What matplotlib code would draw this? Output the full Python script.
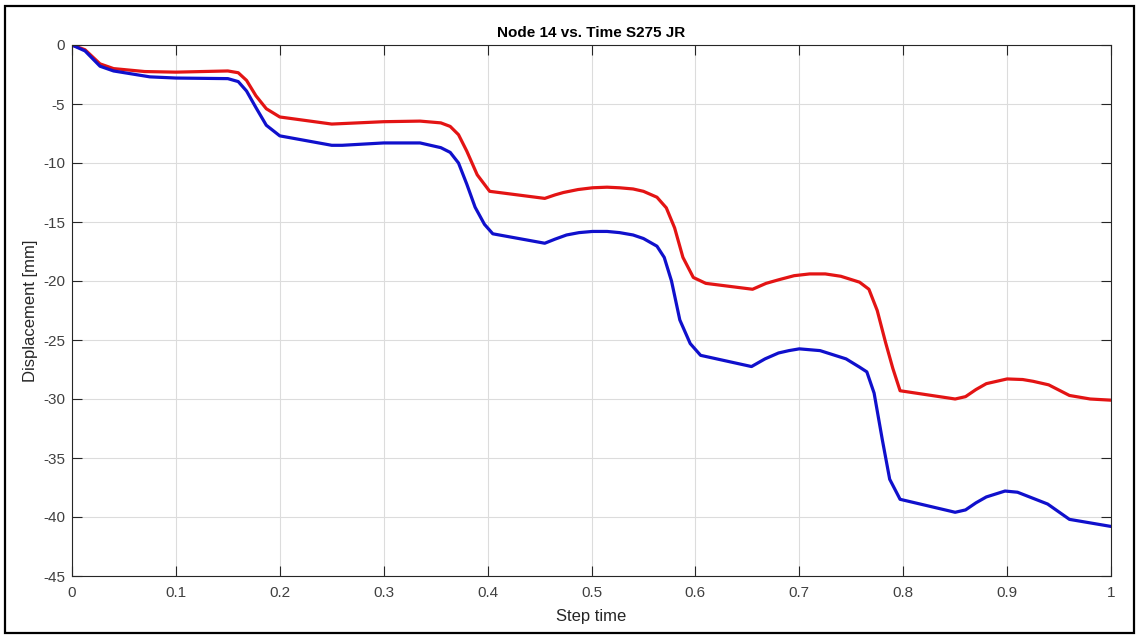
import matplotlib.pyplot as plt
from matplotlib.patches import Rectangle

plt.rcParams['font.family'] = ['Liberation Sans', 'DejaVu Sans']
plt.rcParams['axes.unicode_minus'] = False

# step time / displacement
t_red = [0, 0.0125, 0.027, 0.04, 0.07, 0.1, 0.15, 0.16, 0.168, 0.177, 0.187, 0.2, 0.25, 0.3,
         0.335, 0.355, 0.364, 0.372, 0.38, 0.39, 0.402, 0.455, 0.465, 0.473, 0.487, 0.501,
         0.515, 0.527, 0.54, 0.55, 0.563, 0.572, 0.58, 0.588, 0.598, 0.61, 0.655, 0.668,
         0.68, 0.695, 0.71, 0.725, 0.74, 0.758, 0.767, 0.775, 0.783, 0.79, 0.797, 0.85,
         0.86, 0.87, 0.88, 0.9, 0.915, 0.925, 0.94, 0.96, 0.98, 1.0]
d_red = [0, -0.4, -1.6, -2.0, -2.25, -2.3, -2.2, -2.35, -3.0, -4.3, -5.4, -6.1, -6.7, -6.5,
         -6.45, -6.6, -6.9, -7.6, -9.0, -11.0, -12.4, -13.0, -12.7, -12.5, -12.25, -12.1,
         -12.05, -12.1, -12.2, -12.4, -12.9, -13.8, -15.5, -18.0, -19.7, -20.2, -20.7,
         -20.2, -19.9, -19.55, -19.4, -19.4, -19.6, -20.1, -20.7, -22.5, -25.2, -27.4, -29.3,
         -30.0, -29.8, -29.2, -28.7, -28.3, -28.35, -28.5, -28.8, -29.7, -30.0, -30.1]

t_blue = [0, 0.0125, 0.027, 0.04, 0.075, 0.1, 0.15, 0.16, 0.168, 0.177, 0.187, 0.2, 0.25,
          0.26, 0.3, 0.335, 0.355, 0.364, 0.372, 0.38, 0.388, 0.397, 0.405, 0.455, 0.465,
          0.476, 0.488, 0.501, 0.515, 0.527, 0.54, 0.55, 0.563, 0.57, 0.577, 0.585, 0.595,
          0.605, 0.654, 0.667, 0.68, 0.69, 0.70, 0.72, 0.745, 0.758, 0.765, 0.772, 0.78,
          0.787, 0.797, 0.85, 0.86, 0.87, 0.88, 0.898, 0.91, 0.939, 0.96, 1.0]
d_blue = [0, -0.5, -1.8, -2.2, -2.7, -2.8, -2.85, -3.1, -3.9, -5.3, -6.8, -7.7, -8.5, -8.5,
          -8.3, -8.3, -8.7, -9.1, -10.0, -11.8, -13.75, -15.2, -16.0, -16.8, -16.45, -16.1,
          -15.9, -15.8, -15.8, -15.9, -16.1, -16.4, -17.05, -18.0, -20.0, -23.3, -25.3, -26.3,
          -27.25, -26.6, -26.1, -25.9, -25.75, -25.9, -26.6, -27.3, -27.7, -29.5, -33.5,
          -36.8, -38.5, -39.6, -39.4, -38.8, -38.3, -37.8, -37.9, -38.9, -40.2, -40.8]

fig = plt.figure(figsize=(11.39, 6.35), dpi=100)
fig.patches.append(Rectangle((5 / 1139, 2 / 635), 1129 / 1139, 627 / 635,
                             transform=fig.transFigure, fill=False,
                             edgecolor='black', linewidth=1.6))
ax = fig.add_axes([72 / 1139, 1 - 576 / 635, 1039 / 1139, 531 / 635])

ax.plot(t_red, d_red, color='#e31414', linewidth=2.3)
ax.plot(t_blue, d_blue, color='#1010cc', linewidth=2.3)

ax.set_xlim(0, 1)
ax.set_ylim(-45, 0)
ax.set_xticks([i / 10 for i in range(11)])
ax.set_xticklabels(['0', '0.1', '0.2', '0.3', '0.4', '0.5', '0.6', '0.7', '0.8', '0.9', '1'])
ax.set_yticks(range(-45, 1, 5))
ax.grid(True, color='#dcdcdc', linewidth=0.8)
ax.set_axisbelow(True)
ax.tick_params(direction='in', top=True, right=True, length=7, width=0.8,
               labelsize=11, colors='#262626', labelcolor='#404040')
ax.tick_params(axis='x', pad=7)
ax.tick_params(axis='y', pad=5)
for s in ax.spines.values():
    s.set_color('#262626')
    s.set_linewidth(0.8)

ax.set_title('Node 14 vs. Time S275 JR', fontsize=11, fontweight='bold', pad=6)
ax.set_xlabel('Step time', fontsize=12, color='#262626', labelpad=7)
ax.set_ylabel('Displacement [mm]', fontsize=12, color='#262626', labelpad=4)

fig.savefig('out.png', dpi=100)
